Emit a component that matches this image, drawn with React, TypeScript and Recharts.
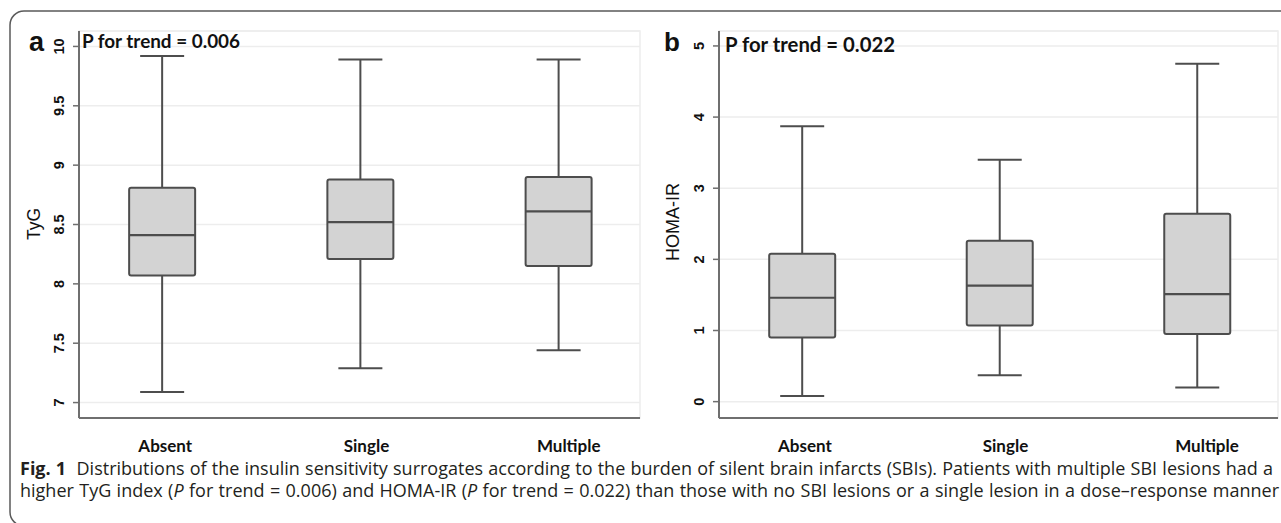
import React from 'react';
import { ComposedChart, Bar, XAxis, YAxis, CartesianGrid, ReferenceArea } from 'recharts';

// ---------- data ----------
const categories = ['Absent', 'Single', 'Multiple'];
const categoryPositions = [1, 2, 3];

const tygMin = [7.09, 7.29, 7.44];
const tygQ1 = [8.07, 8.21, 8.15];
const tygMedian = [8.41, 8.52, 8.61];
const tygQ3 = [8.81, 8.88, 8.9];
const tygMax = [9.92, 9.89, 9.89];
const tygTicks = [7, 7.5, 8, 8.5, 9, 9.5, 10];
const tygDomain = [6.87, 10.13];

const homaMin = [0.08, 0.37, 0.2];
const homaQ1 = [0.9, 1.07, 0.95];
const homaMedian = [1.46, 1.63, 1.51];
const homaQ3 = [2.08, 2.26, 2.64];
const homaMax = [3.87, 3.4, 4.75];
const homaTicks = [0, 1, 2, 3, 4, 5];
const homaDomain = [-0.23, 5.21];

const xDomain = [0.58, 3.41];

const buildRows = (mn: number[], q1: number[], md: number[], q3: number[], mx: number[]) =>
  categoryPositions.map((x, i) => ({ x, min: mn[i], q1: q1[i], median: md[i], q3: q3[i], max: mx[i] }));

const tygRows = buildRows(tygMin, tygQ1, tygMedian, tygQ3, tygMax);
const homaRows = buildRows(homaMin, homaQ1, homaMedian, homaQ3, homaMax);

// ---------- styles ----------
const BOX_FILL = '#d3d3d3';
const BOX_STROKE = '#4d4d4d';
const AXIS_STROKE = '#6f6f6f';
const GRID_STROKE = '#ededed';
const CAP_WIDTH = 44;
const X_LABEL_SHIFT = [3, 6, 10];

const BoxShape = (props: any) => {
  const { x, y, width, height, payload } = props;
  if (payload == null || x == null) return null;
  const top = Math.min(y, y + height);
  const bottom = Math.max(y, y + height);
  const { min, q1, median, q3, max } = payload;
  const toPx = (v: number) => top + ((max - v) / (max - min)) * (bottom - top);
  const cx = x + width / 2;
  const yQ3 = toPx(q3);
  const yQ1 = toPx(q1);
  const yMed = toPx(median);
  return (
    <g>
      <line x1={cx} x2={cx} y1={top} y2={yQ3} stroke={BOX_STROKE} strokeWidth={2} />
      <line x1={cx} x2={cx} y1={yQ1} y2={bottom} stroke={BOX_STROKE} strokeWidth={2} />
      <line x1={cx - CAP_WIDTH / 2} x2={cx + CAP_WIDTH / 2} y1={top} y2={top} stroke={BOX_STROKE} strokeWidth={2} />
      <line x1={cx - CAP_WIDTH / 2} x2={cx + CAP_WIDTH / 2} y1={bottom} y2={bottom} stroke={BOX_STROKE} strokeWidth={2} />
      <rect x={x} y={yQ3} width={width} height={yQ1 - yQ3} rx={2} fill={BOX_FILL} stroke={BOX_STROKE} strokeWidth={2} />
      <line x1={x} x2={x + width} y1={yMed} y2={yMed} stroke={BOX_STROKE} strokeWidth={2.2} />
    </g>
  );
};

const XTick = (props: any) => {
  const { x, y, payload } = props;
  const i = Math.round(payload.value) - 1;
  if (i < 0 || i >= categories.length) return null;
  return (
    <text
      x={x + X_LABEL_SHIFT[i]}
      y={y + 34}
      textAnchor="middle"
      fontFamily="Lato, 'Open Sans', sans-serif"
      fontWeight="bold"
      fontSize={17}
      fill="#111"
    >
      {categories[i]}
    </text>
  );
};

const YTick = (props: any) => {
  const { x, y, payload } = props;
  const bx = x - 9;
  return (
    <text
      x={bx}
      y={y}
      transform={`rotate(-90 ${bx} ${y})`}
      textAnchor="middle"
      fontFamily="'Liberation Sans', Arial, sans-serif"
      fontWeight="bold"
      fontSize={14.5}
      fill="#111"
    >
      {String(payload.value)}
    </text>
  );
};

const Panel = ({ rows, domain, ticks, width, marginRight }: any) => (
  <ComposedChart
    width={width}
    height={523}
    data={rows}
    margin={{ top: 31, right: marginRight, bottom: 65, left: 0 }}
  >
    <ReferenceArea
      x1={xDomain[0]}
      x2={xDomain[1]}
      y1={domain[0]}
      y2={domain[1]}
      fill="none"
      stroke={GRID_STROKE}
      strokeWidth={1.5}
      ifOverflow="extendDomain"
    />
    <CartesianGrid vertical={false} stroke={GRID_STROKE} strokeWidth={1.5} />
    <XAxis
      type="number"
      dataKey="x"
      domain={xDomain}
      ticks={categoryPositions}
      allowDataOverflow
      height={40}
      tickSize={0}
      tickMargin={0}
      tickLine={false}
      axisLine={{ stroke: AXIS_STROKE, strokeWidth: 2 }}
      tick={<XTick />}
      interval={0}
    />
    <YAxis
      type="number"
      domain={domain}
      ticks={ticks}
      allowDataOverflow
      width={79}
      tickSize={6}
      tickMargin={0}
      tickLine={{ stroke: AXIS_STROKE, strokeWidth: 1.5 }}
      axisLine={{ stroke: AXIS_STROKE, strokeWidth: 2 }}
      tick={<YTick />}
      interval={0}
    />
    <Bar
      dataKey={(d: any) => [d.min, d.max]}
      barSize={66}
      shape={(p: any) => <BoxShape {...p} />}
      isAnimationActive={false}
    />
  </ComposedChart>
);

const captionStyle: React.CSSProperties = {
  position: 'absolute',
  left: 20,
  fontFamily: "'Open Sans', 'Noto Sans', sans-serif",
  fontSize: 18,
  lineHeight: '22px',
  color: '#231f20',
  textAlign: 'justify',
  textAlignLast: 'justify',
};

export default function App() {
  return (
    <div style={{ position: 'absolute', left: 0, top: 0, width: 1281, height: 523, background: '#fff', overflow: 'hidden' }}>
      <div style={{ position: 'absolute', left: 0, top: 0 }}>
        <Panel rows={tygRows} domain={tygDomain} ticks={tygTicks} width={641} marginRight={1} />
      </div>
      <div style={{ position: 'absolute', left: 640, top: 0 }}>
        <Panel rows={homaRows} domain={homaDomain} ticks={homaTicks} width={641} marginRight={3} />
      </div>
      <svg width={1281} height={523} style={{ position: 'absolute', left: 0, top: 0, pointerEvents: 'none' }}>
        <rect x={10} y={11} width={1300} height={515} rx={14} fill="none" stroke="#5a5a5a" strokeWidth={1.5} />
        <text x={29} y={51} fontFamily="'Liberation Sans', Arial, sans-serif" fontWeight="bold" fontSize={27} fill="#111">a</text>
        <text x={664} y={51} fontFamily="'Liberation Sans', Arial, sans-serif" fontWeight="bold" fontSize={26} fill="#111">b</text>
        <text x={82} y={48} fontFamily="Lato, 'Open Sans', sans-serif" fontWeight="bold" fontSize={19} fill="#111" textLength={158} lengthAdjust="spacingAndGlyphs">P for trend = 0.006</text>
        <text x={725} y={52} fontFamily="Lato, 'Open Sans', sans-serif" fontWeight="bold" fontSize={20} fill="#111" textLength={170} lengthAdjust="spacingAndGlyphs">P for trend = 0.022</text>
        <text x={40} y={224} transform="rotate(-90 40 224)" textAnchor="middle" fontFamily="'Liberation Sans', Arial, sans-serif" fontSize={17.5} fill="#111">TyG</text>
        <text x={679} y={222} transform="rotate(-90 679 222)" textAnchor="middle" fontFamily="'Liberation Sans', Arial, sans-serif" fontSize={18} fill="#111">HOMA-IR</text>
      </svg>
      <div style={{ ...captionStyle, top: 457, width: 1253 }}>
        <b>Fig. 1</b>&nbsp;&nbsp;Distributions of the insulin sensitivity surrogates according to the burden of silent brain infarcts (SBIs). Patients with multiple SBI lesions had a
      </div>
      <div style={{ ...captionStyle, top: 479, width: 1259 }}>
        higher TyG index (<i>P</i> for trend = 0.006) and HOMA-IR (<i>P</i> for trend = 0.022) than those with no SBI lesions or a single lesion in a dose–response manner
      </div>
    </div>
  );
}
